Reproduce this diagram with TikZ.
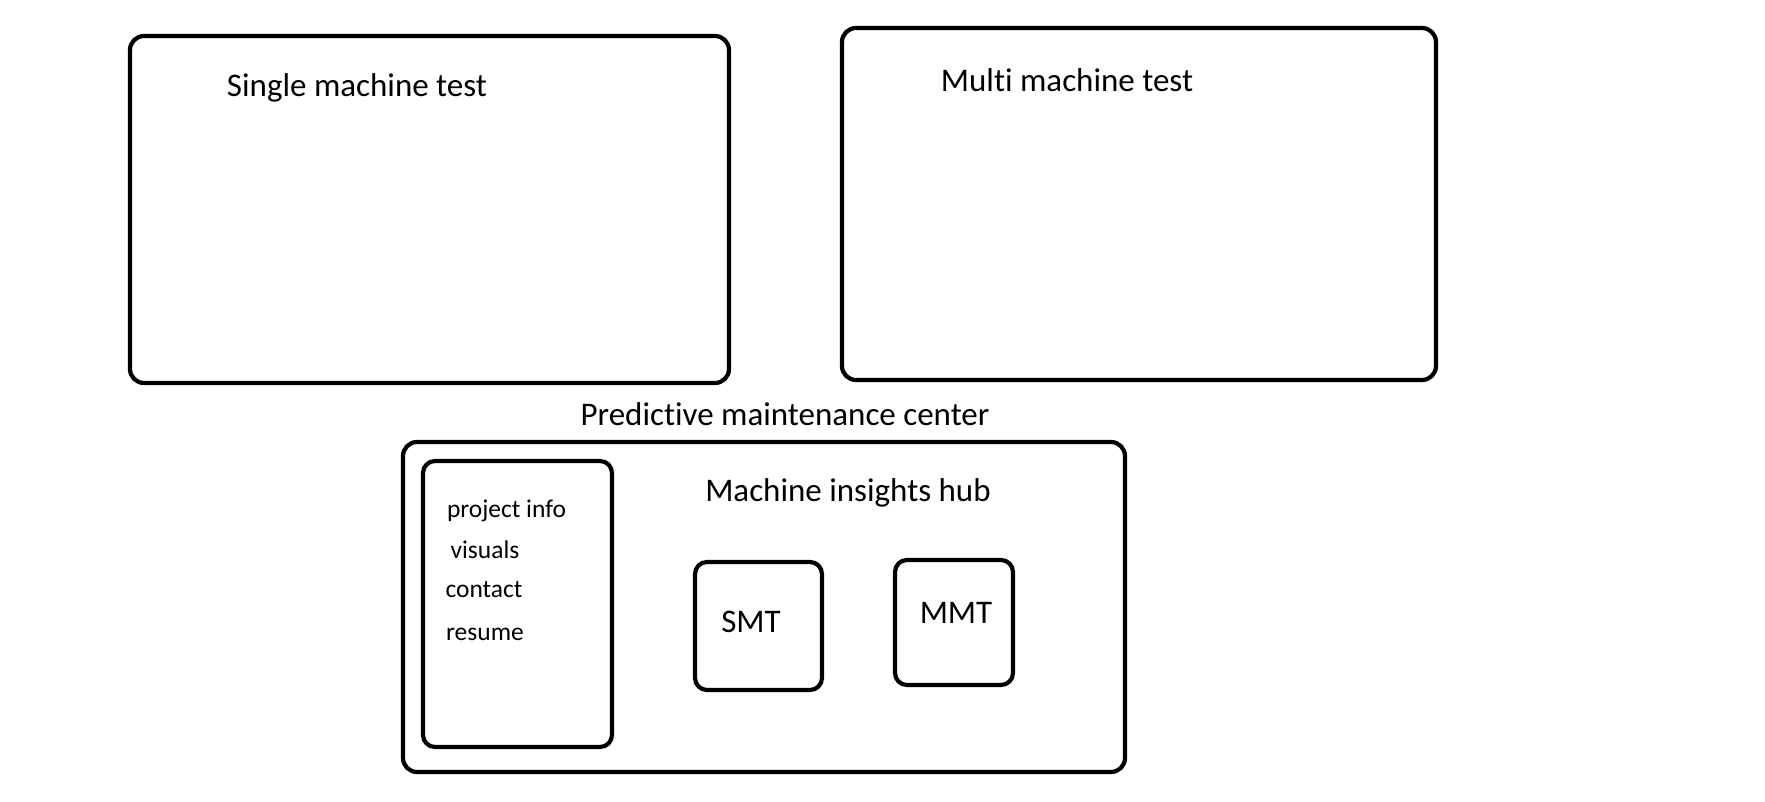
\documentclass[tikz,border=0pt]{standalone}
\usepackage{fontspec}
\setmainfont{Carlito}[Ligatures=NoCommon]
\usepackage{xcolor}
\usepackage{tikz}
\usetikzlibrary{shapes,positioning}

\begin{document}
\begin{tikzpicture}[
        x=1pt, y=-1pt,
        frame/.style={draw=black, line width=4.2pt, rounded corners=14pt, inner sep=0pt},
        smallframe/.style={frame, rounded corners=12pt},
        title/.style={anchor=base, inner sep=0pt, font=\fontsize{33}{39}\selectfont},
        entry/.style={anchor=base, inner sep=0pt, font=\fontsize{25.5}{30}\selectfont}
    ]
    \useasboundingbox (0,0) rectangle (1765,802);

    % top row
    \node[frame, minimum width=599pt, minimum height=347pt] (single) at (429.5,209.5) {};
    \node[frame, minimum width=594pt, minimum height=352pt] (multi) at (1139,204) {};
    \node[title] (singlelabel) at (357,97) {Single machine test};
    \node[title] (multilabel) at (1067,92) {Multi machine test};

    % maintenance center
    \node[title] (pmclabel) at (785,425) {Predictive maintenance center};
    \node[frame, minimum width=722pt, minimum height=330pt] (pmc) at (764,607) {};
    \node[smallframe, minimum width=189pt, minimum height=286pt] (menu) at (517.5,604) {};
    \node[entry] (projectinfo) at (506.5,517) {project info};
    \node[entry] (visuals) at (485,558) {visuals};
    \node[entry] (contact) at (484,597) {contact};
    \node[entry] (resume) at (485,640) {resume};

    \node[title] (hublabel) at (848,501) {Machine insights hub};
    \node[smallframe, minimum width=127pt, minimum height=128pt] (smt) at (758.5,626) {};
    \node[smallframe, minimum width=118pt, minimum height=125pt] (mmt) at (954,622.5) {};
    \node[title] (smtlabel) at (751,632) {SMT};
    \node[title] (mmtlabel) at (956,623) {MMT};
\end{tikzpicture}
\end{document}
